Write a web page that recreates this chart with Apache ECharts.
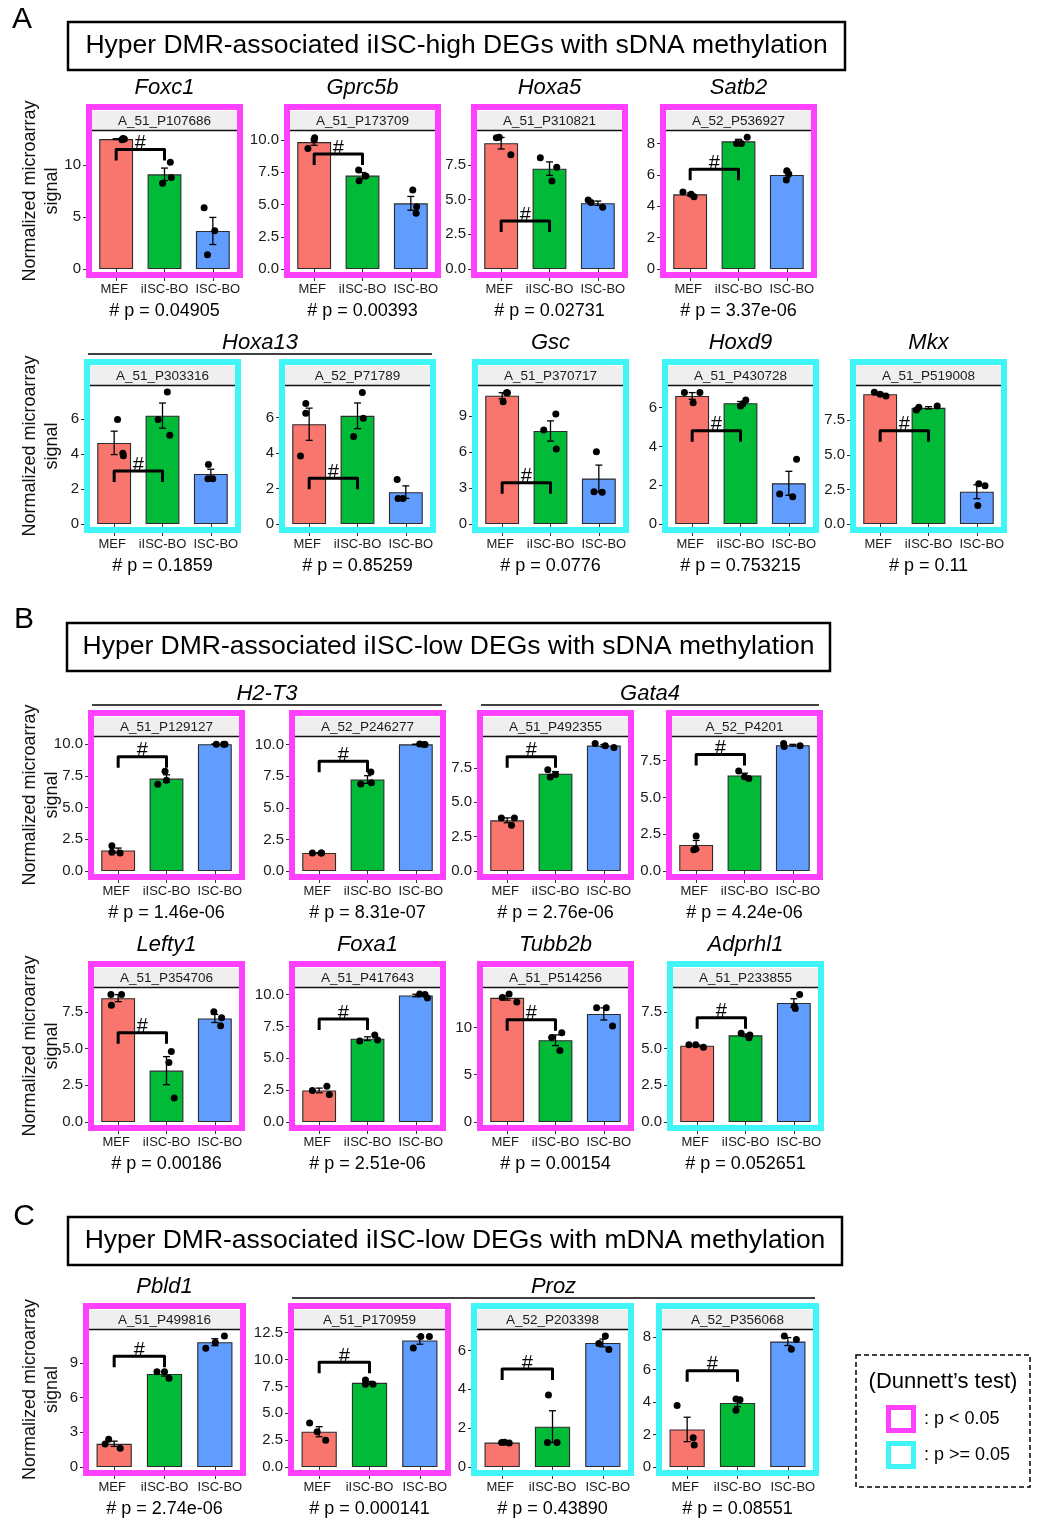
<!DOCTYPE html>
<html><head><meta charset="utf-8">
<script src="https://cdn.jsdelivr.net/npm/echarts@6/dist/echarts.min.js"></script>
<style>html,body{margin:0;padding:0;background:#fff}#c{width:1037px;height:1519px}</style>
</head><body><div id="c"></div>
<script>
// ---------------- DATA ----------------
const groups = ['MEF', 'iISC-BO', 'ISC-BO'];
const probes = ['A_51_P107686','A_51_P173709','A_51_P310821','A_52_P536927',
  'A_51_P303316','A_52_P71789','A_51_P370717','A_51_P430728','A_51_P519008',
  'A_51_P129127','A_52_P246277','A_51_P492355','A_52_P4201',
  'A_51_P354706','A_51_P417643','A_51_P514256','A_51_P233855',
  'A_51_P499816','A_51_P170959','A_52_P203398','A_52_P356068'];
const signif = ['m','m','m','m', 'c','c','c','c','c', 'm','m','m','m', 'm','m','m','c', 'm','m','c','c'];
const pValues = ['0.04905','0.00393','0.02731','3.37e-06',
  '0.1859','0.85259','0.0776','0.753215','0.11',
  '1.46e-06','8.31e-07','2.76e-06','4.24e-06',
  '0.00186','2.51e-06','0.00154','0.052651',
  '2.74e-06','0.000141','0.43890','0.08551'];
const yTickLabels = [
  ['0','5','10'], ['0.0','2.5','5.0','7.5','10.0'], ['0.0','2.5','5.0','7.5'], ['0','2','4','6','8'],
  ['0','2','4','6'], ['0','2','4','6'], ['0','3','6','9'], ['0','2','4','6'], ['0.0','2.5','5.0','7.5'],
  ['0.0','2.5','5.0','7.5','10.0'], ['0.0','2.5','5.0','7.5','10.0'], ['0.0','2.5','5.0','7.5'], ['0.0','2.5','5.0','7.5'],
  ['0.0','2.5','5.0','7.5'], ['0.0','2.5','5.0','7.5','10.0'], ['0','5','10'], ['0.0','2.5','5.0','7.5'],
  ['0','3','6','9'], ['0.0','2.5','5.0','7.5','10.0','12.5'], ['0','2','4','6'], ['0','2','4','6','8']];
const yMax = [13.27, 10.7, 9.95, 8.79, 7.9, 7.77, 11.5, 7.11, 9.97,
  10.57, 10.6, 9.74, 9.1, 9.12, 10.52, 14.16, 9.12, 11.85, 12.75, 7.05, 8.45];
// replicate values (3 per group)
const dotsMEF = [[12.42,12.5,12.55],[9.35,10.18,10.0],[9.47,9.5,8.24],[4.9,4.76,4.6],
  [5.98,4.05,3.9],[6.79,6.23,3.83],[10.94,10.94,10.19],[6.77,6.77,6.25],[9.52,9.37,9.25],
  [1.99,1.47,1.42],[1.43,1.43,1.43],[3.86,3.86,3.33],[2.38,1.49,1.45],
  [8.67,8.67,7.95],[2.47,2.8,2.16],[13.15,13.53,12.69],[5.25,5.25,5.09],
  [1.99,2.41,1.62],[4.1,3.27,2.48],[1.26,1.23,1.28],[3.8,1.8,1.35]];
const dotsIISC = [[10.26,8.24,8.81],[7.67,6.85,7.21],[8.03,7.33,6.35],[8.0,8.0,8.39],
  [7.55,5.98,5.08],[7.41,5.95,4.92],[9.17,7.83,6.25],[6.08,6.39,6.19],[8.23,8.43,8.52],
  [7.86,6.85,7.16],[7.84,6.88,6.99],[7.36,6.83,7.02],[6.79,6.28,6.4],
  [4.8,4.05,1.64],[6.36,6.83,6.44],[8.92,9.44,7.55],[6.04,5.92,5.74],
  [8.24,8.24,7.67],[8.1,7.7,7.7],[3.71,1.26,1.26],[4.2,4.15,3.5]];
const dotsISC = [[5.9,3.69,1.38],[6.12,4.32,4.83],[4.98,4.8,4.45],[6.26,6.05,5.67],
  [3.41,2.59,2.59],[2.5,1.44,1.44],[6.03,2.69,2.64],[1.55,1.41,3.33],[2.9,2.76,1.33],
  [10.0,10.0,10.0],[10.05,10.0,10.0],[9.26,9.1,8.98],[8.66,8.46,8.51],
  [7.5,7.09,6.55],[10.05,10.0,9.74],[12.06,12.06,10.14],[8.67,7.9,7.73],
  [10.28,10.77,11.33],[11.07,12.14,12.14],[6.36,6.74,6.05],[8.08,7.87,7.26]];
// horizontal jitter of each replicate (category units)
const jitterMEF = [[0.12,0.17,0.14],[-0.13,0.01,0.0],[-0.1,-0.04,0.2],[-0.15,0.02,0.08],
  [0.07,0.18,0.19],[-0.07,-0.07,-0.18],[0.09,0.11,0.02],[-0.16,0.16,0.02],[-0.12,0,0.12],
  [-0.13,-0.13,0.04],[-0.14,0.05,0.04],[-0.12,0.15,0.09],[0,-0.01,-0.05],
  [-0.15,0.07,-0.14],[-0.14,0.16,0.21],[-0.1,0.04,0.2],[-0.17,-0.03,0.13],
  [-0.18,-0.11,0.12],[-0.19,-0.04,0.13],[-0.01,0.14,0.05],[-0.2,0.12,0.14]];
const jitterIISC = [[0.12,-0.04,0.14],[-0.08,-0.07,0.07],[-0.19,0.15,0.05],[-0.04,0.06,0.18],
  [0.1,-0.09,0.15],[0.1,0.12,-0.08],[0.11,-0.14,0.12],[0.0,0.11,0.05],[-0.25,-0.2,0.18],
  [-0.03,-0.18,0.0],[0.07,-0.14,0.08],[-0.16,-0.11,0.0],[-0.12,0.09,0.0],
  [0.1,0.05,0.16],[-0.16,0.15,0.21],[-0.08,0.13,0.09],[-0.09,0.09,0.07],
  [-0.15,0,0.09],[-0.08,-0.08,0.07],[-0.08,-0.1,0.09],[-0.03,0.05,-0.03]];
const jitterISC = [[-0.18,0.04,-0.11],[0.04,0.11,0.12],[-0.2,-0.14,0.1],[0.0,0.04,-0.01],
  [-0.05,-0.06,0.04],[-0.18,-0.16,-0.06],[-0.05,-0.1,0.07],[-0.19,0.08,0.16],[0.04,0.17,0.02],
  [0.03,0.18,0.21],[0.08,0.19,0.17],[-0.18,0.03,0.21],[-0.19,-0.18,0.15],
  [-0.02,0.14,0.12],[0.08,0.19,0.24],[-0.15,0.05,0.18],[0.12,0.01,0.03],
  [-0.18,0.01,0.19],[-0.13,0.02,0.19],[-0.08,0.05,0.12],[-0.07,0.17,0.07]];
const bracketY = [11.5, 8.91, 3.46, 6.35, 3.03, 2.57, 3.44, 4.81, 6.73,
  9.02, 8.68, 8.31, 7.91, 6.08, 8.08, 10.8, 7.09, 9.57, 9.76, 5.04, 5.93];
const geneNames = ['Foxc1','Gprc5b','Hoxa5','Satb2','Hoxa13','Gsc','Hoxd9','Mkx',
  'H2-T3','Gata4','Lefty1','Foxa1','Tubb2b','Adprhl1','Pbld1','Proz'];
const geneFirstPanel = [0,1,2,3,4,6,7,8,9,11,13,14,15,16,17,18];
const genePanelCount = [1,1,1,1,2,1,1,1,2,2,1,1,1,1,1,3];
const sectionLetters = ['A','B','C'];
const sectionTitles = ['Hyper DMR-associated iISC-high DEGs with sDNA methylation',
  'Hyper DMR-associated iISC-low DEGs with sDNA methylation',
  'Hyper DMR-associated iISC-low DEGs with mDNA methylation'];
const yTitle = 'Normalized microarray\nsignal';
const legendTitle = '(Dunnett\u2019s test)';
const legendLabels = [': p < 0.05', ': p >= 0.05'];

// ---------------- LAYOUT / STYLE ----------------
const FF = '"Liberation Sans", Arial, Helvetica, sans-serif';
const SIGCOL = { m: '#FF40FF', c: '#40F5F5' };
const barColors = ['#F8766D', '#00BA38', '#619CFF'];
const rows = [
  { T: 104, H: 174, W: 157, lefts: [86, 284, 471, 660] },
  { T: 359, H: 174, W: 157, lefts: [84, 279, 472, 662, 850] },
  { T: 710, H: 170, W: 157, lefts: [88, 289, 477, 666] },
  { T: 961, H: 170, W: 157, lefts: [88, 289, 477, 667] },
  { T: 1303, H: 173, W: 163, lefts: [83, 288, 471, 656] }
];
const sectionBoxes = [
  { lx: 22, ly: 20, x: 68, y: 22, w: 777, h: 48 },
  { lx: 24, ly: 620, x: 67, y: 623, w: 763, h: 48 },
  { lx: 24, ly: 1217, x: 68, y: 1217, w: 774, h: 48 }
];
const BD = 6;

const geom = [];
rows.forEach((r) => r.lefts.forEach((l, k) => geom.push({ x: l, T: r.T, H: r.H, W: r.W, first: k === 0 })));

const mean = a => a.reduce((s, v) => s + v, 0) / a.length;
const se = a => { const m = mean(a); return Math.sqrt(a.reduce((s, v) => s + (v - m) * (v - m), 0) / (a.length - 1)) / Math.sqrt(a.length); };

const grids = [], xAxes = [], yAxes = [], series = [], gfx = [];

geom.forEach((g, i) => {
  const IW = g.W - 2 * BD;
  const gridTop = g.T + 27, gridH = g.H - 36;
  grids.push({ left: g.x + BD, top: gridTop, width: IW, height: gridH });
  xAxes.push({ gridIndex: i, type: 'category', data: groups,
    axisLine: { show: false, onZero: false },
    axisTick: { show: true, alignWithLabel: true, length: 12, lineStyle: { color: '#333', width: 1 } },
    axisLabel: { interval: 0, margin: 14, fontSize: 13, color: '#1a1a1a', fontFamily: FF,
      formatter: (v, idx) => '{l' + idx + '|' + v + '}',
      rich: {
        l0: { fontSize: 13, fontFamily: FF, color: '#1a1a1a', padding: [0, 4, 0, 0] },
        l1: { fontSize: 13, fontFamily: FF, color: '#1a1a1a' },
        l2: { fontSize: 13, fontFamily: FF, color: '#1a1a1a', padding: [0, 0, 0, 10] }
      } } });
  xAxes.push({ gridIndex: i, type: 'value', min: -0.5, max: 2.5, show: false, axisLine: { onZero: false } });
  const ticks = yTickLabels[i].map(Number);
  yAxes.push({ gridIndex: i, type: 'value', min: 0, max: yMax[i], position: 'left',
    axisLine: { show: false, onZero: false }, splitLine: { show: false },
    axisTick: { show: true, length: 9, lineStyle: { color: '#333', width: 1 }, customValues: ticks },
    axisLabel: { customValues: ticks, margin: 11, fontSize: 15, color: '#1a1a1a', fontFamily: FF,
      formatter: v => { const s = yTickLabels[i].find(t => Math.abs(Number(t) - v) < 1e-9); return s === undefined ? '' : s; } } });

  const sets = [dotsMEF[i], dotsIISC[i], dotsISC[i]];
  const jits = [jitterMEF[i], jitterIISC[i], jitterISC[i]];
  series.push({ type: 'bar', z: 1, xAxisIndex: 2 * i, yAxisIndex: i, barWidth: '70%',
    data: sets.map((d, k) => ({ value: mean(d), itemStyle: { color: barColors[k], borderColor: '#2b2b2b', borderWidth: 1.1 } })) });
  series.push({ type: 'custom', z: 3, coordinateSystem: 'cartesian2d', xAxisIndex: 2 * i + 1, yAxisIndex: i,
    data: sets.map((d, k) => [k, mean(d), se(d)]), encode: { x: 0, y: 1 },
    renderItem: (p, api) => {
      const x = api.value(0), m = api.value(1), s = api.value(2);
      const t = api.coord([x, m + s]), b = api.coord([x, m - s]);
      const st = { stroke: '#000', lineWidth: 1.3 };
      return { type: 'group', children: [
        { type: 'line', shape: { x1: t[0], y1: t[1], x2: b[0], y2: b[1] }, style: st },
        { type: 'line', shape: { x1: t[0] - 3.5, y1: t[1], x2: t[0] + 3.5, y2: t[1] }, style: st },
        { type: 'line', shape: { x1: b[0] - 3.5, y1: b[1], x2: b[0] + 3.5, y2: b[1] }, style: st }
      ] };
    } });
  const pts = [];
  sets.forEach((d, k) => d.forEach((v, j) => pts.push([k + jits[k][j], v])));
  series.push({ type: 'scatter', z: 4, xAxisIndex: 2 * i + 1, yAxisIndex: i, data: pts,
    symbolSize: 7, itemStyle: { color: '#000', opacity: 1 } });
  series.push({ type: 'custom', z: 5, coordinateSystem: 'cartesian2d', xAxisIndex: 2 * i + 1, yAxisIndex: i,
    data: [[0, bracketY[i]]], encode: { x: 0, y: 1 }, clip: false,
    renderItem: (p, api) => {
      const y = api.value(1);
      const a = api.coord([0, y]), b = api.coord([1, y]);
      return { type: 'group', children: [
        { type: 'polyline', shape: { points: [[a[0], a[1] + 11], [a[0], a[1]], [b[0], b[1]], [b[0], b[1] + 11]] },
          style: { stroke: '#000', lineWidth: 3, fill: null, lineJoin: 'round' } },
        { type: 'text', style: { text: '#', x: (a[0] + b[0]) / 2, y: a[1] + 4, font: '20px ' + FF,
          fill: '#000', textAlign: 'center', textVerticalAlign: 'bottom', verticalAlign: 'bottom' } }
      ] };
    } });

  // panel decorations
  gfx.push({ type: 'rect', z: 100, shape: { x: g.x + BD / 2, y: g.T + BD / 2, width: g.W - BD, height: g.H - BD },
    style: { fill: null, stroke: SIGCOL[signif[i]], lineWidth: BD } });
  gfx.push({ type: 'rect', z: 5, shape: { x: g.x + BD, y: g.T + 7, width: IW, height: 19 }, style: { fill: '#EFEFEF' } });
  gfx.push({ type: 'line', z: 6, shape: { x1: g.x + BD, y1: g.T + 26.5, x2: g.x + g.W - BD, y2: g.T + 26.5 },
    style: { stroke: '#111', lineWidth: 1.6 } });
  gfx.push({ type: 'text', z: 7, style: { text: probes[i], x: g.x + g.W / 2, y: g.T + 17, font: '13.5px ' + FF,
    fill: '#1a1a1a', textAlign: 'center', textVerticalAlign: 'middle', verticalAlign: 'middle' } });
  gfx.push({ type: 'text', z: 7, style: { text: '# p = ' + pValues[i], x: g.x + g.W / 2, y: g.T + g.H + 33,
    font: '18px ' + FF, fill: '#000', textAlign: 'center', textVerticalAlign: 'middle', verticalAlign: 'middle' } });
  if (g.first) {
    gfx.push({ type: 'text', z: 7, x: 41, y: g.T + g.H / 2, rotation: Math.PI / 2,
      style: { text: yTitle, x: 0, y: 0, font: '18px ' + FF, lineHeight: 22, fill: '#111',
        textAlign: 'center', textVerticalAlign: 'middle', verticalAlign: 'middle' } });
  }
});

// gene titles
geneNames.forEach((name, k) => {
  const f = geneFirstPanel[k], n = genePanelCount[k];
  const x1 = geom[f].x, x2 = geom[f + n - 1].x + geom[f + n - 1].W, T = geom[f].T;
  gfx.push({ type: 'text', z: 7, style: { text: name, x: (x1 + x2) / 2, y: T - 16, font: 'italic 22px ' + FF,
    fill: '#000', textAlign: 'center', textVerticalAlign: 'middle', verticalAlign: 'middle' } });
  if (n > 1) gfx.push({ type: 'line', z: 7, shape: { x1: x1 + 4, y1: T - 5, x2: x2 - 4, y2: T - 5 },
    style: { stroke: '#000', lineWidth: 1.6 } });
});

// section headers
sectionBoxes.forEach((s, k) => {
  gfx.push({ type: 'text', z: 7, style: { text: sectionLetters[k], x: s.lx, y: s.ly, font: '30px ' + FF,
    fill: '#000', textAlign: 'center', textVerticalAlign: 'middle', verticalAlign: 'middle' } });
  gfx.push({ type: 'rect', z: 7, shape: { x: s.x, y: s.y, width: s.w, height: s.h },
    style: { fill: null, stroke: '#000', lineWidth: 2.5 } });
  gfx.push({ type: 'text', z: 7, style: { text: sectionTitles[k], x: s.x + s.w / 2, y: s.y + s.h / 2, font: '26.5px ' + FF,
    fill: '#000', textAlign: 'center', textVerticalAlign: 'middle', verticalAlign: 'middle' } });
});

// legend
gfx.push({ type: 'rect', z: 7, shape: { x: 856, y: 1355, width: 174, height: 132 },
  style: { fill: null, stroke: '#000', lineWidth: 1.5, lineDash: [5, 3] } });
gfx.push({ type: 'text', z: 7, style: { text: legendTitle, x: 943, y: 1382, font: '22px ' + FF, fill: '#000',
  textAlign: 'center', textVerticalAlign: 'middle', verticalAlign: 'middle' } });
['m', 'c'].forEach((c, k) => {
  const y0 = 1405 + k * 36;
  gfx.push({ type: 'rect', z: 7, shape: { x: 888.5, y: y0 + 2.5, width: 25, height: 23 },
    style: { fill: null, stroke: SIGCOL[c], lineWidth: 5 } });
  gfx.push({ type: 'text', z: 7, style: { text: legendLabels[k], x: 924, y: y0 + 14, font: '18px ' + FF, fill: '#000',
    textAlign: 'left', textVerticalAlign: 'middle', verticalAlign: 'middle' } });
});

const chart = echarts.init(document.getElementById('c'), null, { renderer: 'canvas' });
chart.setOption({
  animation: false,
  backgroundColor: '#fff',
  grid: grids, xAxis: xAxes, yAxis: yAxes, series: series,
  graphic: { elements: gfx }
});
</script></body></html>
